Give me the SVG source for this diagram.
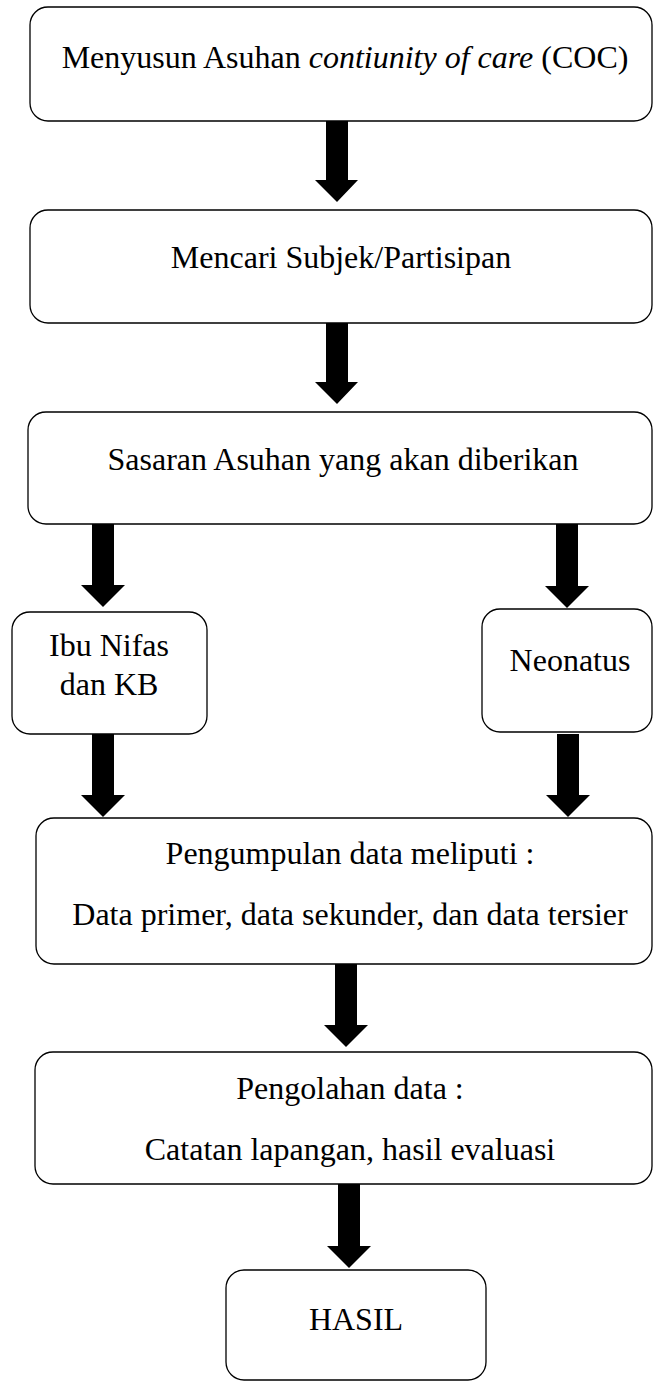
<svg xmlns="http://www.w3.org/2000/svg" width="653" height="1382" viewBox="0 0 653 1382">
<defs>
<style>
.box{fill:#fff;stroke:#000;stroke-width:1.3}
.arr{fill:#000}
</style>
</defs>
<rect width="653" height="1382" fill="#fff"/>
<g id="connectors">
<polygon class="arr" points="326,120 348,120 348,180 358,180 337,202 315,180 326,180"/>
<polygon class="arr" points="326,323 348,323 348,382 358,382 337,404 315,382 326,382"/>
<polygon class="arr" points="92,524 114,524 114,585 125,585 103,607 81,585 92,585"/>
<polygon class="arr" points="556,524 578,524 578,586 589,586 567,608 545,586 556,586"/>
<polygon class="arr" points="92,734 114,734 114,795 125,795 103,817 81,795 92,795"/>
<polygon class="arr" points="557,734 579,734 579,795 590,795 568,817 546,795 557,795"/>
<polygon class="arr" points="335,964 357,964 357,1025 368,1025 346,1047 324,1025 335,1025"/>
<polygon class="arr" points="338,1184 360,1184 360,1246 371,1246 349,1268 327,1246 338,1246"/>
</g>
<g id="n1"><rect class="box" x="30" y="7" width="622" height="114" rx="18"/>
<text x="345" y="68" font-family="Liberation Serif" font-size="32" text-anchor="middle">Menyusun Asuhan <tspan font-style="italic">contiunity of care</tspan> (COC)</text></g>
<g id="n2"><rect class="box" x="30" y="210" width="622" height="113" rx="18"/>
<text x="341" y="268" font-family="Liberation Serif" font-size="32" text-anchor="middle">Mencari Subjek/Partisipan</text></g>
<g id="n3"><rect class="box" x="28" y="412" width="624" height="112" rx="18"/>
<text x="343" y="470" font-family="Liberation Serif" font-size="32" text-anchor="middle">Sasaran Asuhan yang akan diberikan</text></g>
<g id="n4"><rect class="box" x="12" y="612" width="195" height="122" rx="18"/>
<text x="109" y="656" font-family="Liberation Serif" font-size="32" text-anchor="middle">Ibu Nifas</text>
<text x="109" y="695" font-family="Liberation Serif" font-size="32" text-anchor="middle">dan KB</text></g>
<g id="n5"><rect class="box" x="482" y="609" width="170" height="123" rx="18"/>
<text x="570" y="671" font-family="Liberation Serif" font-size="32" text-anchor="middle">Neonatus</text></g>
<g id="n6"><rect class="box" x="36" y="818" width="616" height="146" rx="18"/>
<text x="350" y="864" font-family="Liberation Serif" font-size="32" text-anchor="middle">Pengumpulan data meliputi :</text>
<text x="350" y="925" font-family="Liberation Serif" font-size="32" text-anchor="middle">Data primer, data sekunder, dan data tersier</text></g>
<g id="n7"><rect class="box" x="35" y="1052" width="617" height="132" rx="18"/>
<text x="350" y="1099" font-family="Liberation Serif" font-size="32" text-anchor="middle">Pengolahan data :</text>
<text x="350" y="1160" font-family="Liberation Serif" font-size="32" text-anchor="middle">Catatan lapangan, hasil evaluasi</text></g>
<g id="n8"><rect class="box" x="226" y="1270" width="260" height="110" rx="18"/>
<text x="356" y="1330" font-family="Liberation Serif" font-size="32" text-anchor="middle">HASIL</text></g>
</svg>
